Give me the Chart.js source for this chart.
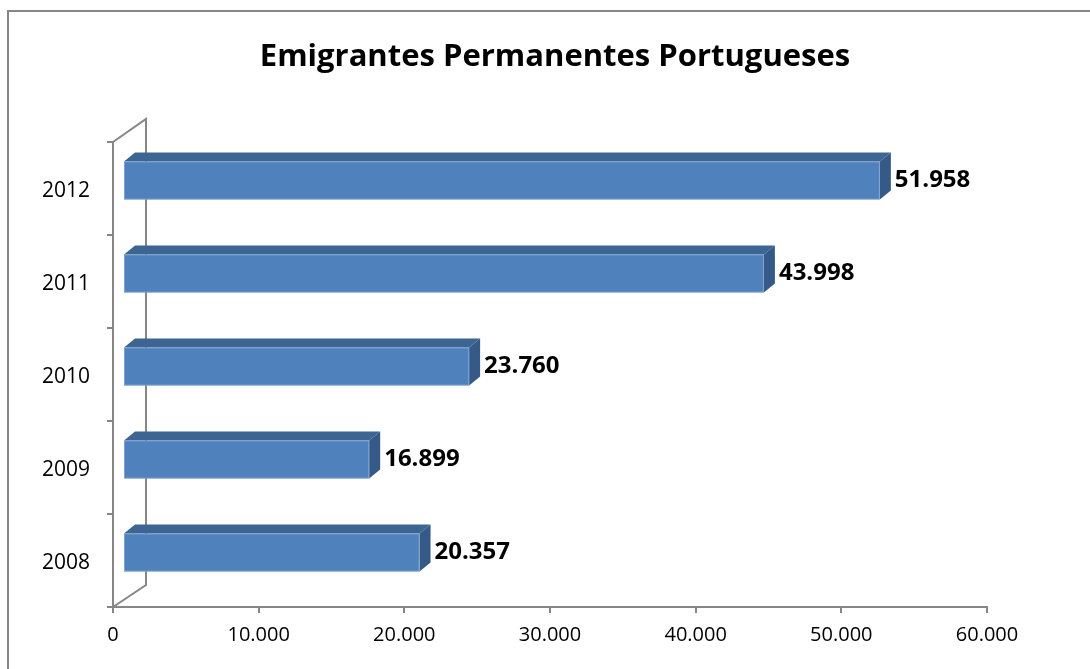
<!DOCTYPE html>
<html lang="pt">
<head>
<meta charset="UTF-8">
<title>Emigrantes Permanentes Portugueses</title>
<script src="https://cdn.jsdelivr.net/npm/chart.js"></script>
<style>
  html, body { margin: 0; padding: 0; background: #fff; }
  #wrap { width: 1090px; height: 669px; }
</style>
</head>
<body>
<div id="wrap"><canvas id="myChart" width="1090" height="669"></canvas></div>
<script>
// dados
const titulo = 'Emigrantes Permanentes Portugueses';
const anos = ['2012', '2011', '2010', '2009', '2008'];
const emigrantes = [51958, 43998, 23760, 16899, 20357];
const xTicks = [0, 10000, 20000, 30000, 40000, 50000, 60000];

const cinza = '#868686';
const fonte = "'Open Sans', sans-serif";

function fmt(v) {
    return String(v).replace(/\B(?=(\d{3})+(?!\d))/g, '.');
}

// profundidade da barra 3D
const frente = { x: 10, y: -8 };
const prof = { x: 11, y: -9 };
const parede = { x: 33, y: -23 };

const moldura = {
    id: 'moldura',
    beforeDraw(chart) {
        const ctx = chart.ctx;
        ctx.save();
        ctx.fillStyle = cinza;
        ctx.fillRect(7, 10, 2, chart.height);
        ctx.fillRect(7, 10, chart.width, 2);
        // titulo
        ctx.fillStyle = '#000';
        ctx.font = "bold 31px " + fonte;
        ctx.textAlign = 'center';
        ctx.textBaseline = 'middle';
        ctx.fillText(titulo, 555, 57);
        ctx.restore();
    },
    beforeDatasetsDraw(chart) {
        // paredes do grafico 3D
        const a = chart.chartArea;
        const ctx = chart.ctx;
        ctx.save();
        ctx.strokeStyle = cinza;
        ctx.lineWidth = 2;
        ctx.beginPath();
        ctx.moveTo(a.left, a.top);
        ctx.lineTo(a.left + parede.x, a.top + parede.y);
        ctx.lineTo(a.left + parede.x, a.bottom + parede.y + 1);
        ctx.lineTo(a.left, a.bottom);
        ctx.stroke();
        ctx.restore();
    },
    afterDatasetsDraw(chart) {
        const ctx = chart.ctx;
        const meta = chart.getDatasetMeta(0);
        ctx.save();
        meta.data.forEach((bar, i) => {
            const h = bar.height;
            const x0 = bar.base + frente.x, x1 = bar.x + frente.x;
            const y0 = bar.y - h / 2 + frente.y, y1 = bar.y + h / 2 + frente.y;
            // topo
            ctx.fillStyle = '#3C6591';
            ctx.beginPath();
            ctx.moveTo(x0, y0);
            ctx.lineTo(x0 + prof.x, y0 + prof.y);
            ctx.lineTo(x1 + prof.x, y0 + prof.y);
            ctx.lineTo(x1, y0);
            ctx.closePath();
            ctx.fill();
            // lado
            ctx.fillStyle = '#355A87';
            ctx.beginPath();
            ctx.moveTo(x1, y0);
            ctx.lineTo(x1 + prof.x, y0 + prof.y);
            ctx.lineTo(x1 + prof.x, y1 + prof.y);
            ctx.lineTo(x1, y1);
            ctx.closePath();
            ctx.fill();
            // frente
            ctx.fillStyle = '#4F81BD';
            ctx.fillRect(x0, y0, x1 - x0, y1 - y0);
            ctx.strokeStyle = 'rgba(170,195,225,0.5)';
            ctx.lineWidth = 1;
            ctx.strokeRect(x0 + 0.5, y0 + 0.5, x1 - x0 - 1, y1 - y0 - 1);
            // rotulo
            ctx.fillStyle = '#000';
            ctx.font = "bold 24px " + fonte;
            ctx.textAlign = 'left';
            ctx.textBaseline = 'middle';
            ctx.fillText(fmt(emigrantes[i]), x1 + prof.x + 4, (y0 + y1) / 2);
        });
        ctx.restore();
    }
};

const ctx = document.getElementById('myChart').getContext('2d');
const myChart = new Chart(ctx, {
    type: 'bar',
    data: {
        labels: anos,
        datasets: [{
            label: 'Emigrantes',
            data: emigrantes,
            backgroundColor: 'rgba(0,0,0,0)',
            borderWidth: 0,
            barPercentage: 0.41,
            categoryPercentage: 1
        }]
    },
    options: {
        indexAxis: 'y',
        responsive: false,
        animation: false,
        layout: { padding: { left: 0, right: 103, top: 142, bottom: 0 } },
        plugins: {
            legend: { display: false },
            tooltip: { enabled: false },
            title: { display: false }
        },
        scales: {
            x: {
                min: 0,
                max: 60000,
                afterBuildTicks: s => { s.ticks = xTicks.map(v => ({ value: v })); },
                afterFit: s => { s.height = 62; },
                ticks: {
                    color: '#000',
                    font: { family: fonte, size: 20 },
                    padding: 10,
                    maxRotation: 0,
                    callback: v => fmt(v)
                },
                grid: { drawOnChartArea: false, drawTicks: true, tickLength: 6, color: cinza, lineWidth: 2 },
                border: { color: cinza, width: 2 }
            },
            y: {
                afterFit: s => { s.width = 113; },
                ticks: {
                    color: '#000',
                    font: { family: fonte, size: 21 },
                    padding: 17,
                    labelOffset: 3
                },
                grid: { drawOnChartArea: false, drawTicks: true, tickLength: 6, color: cinza, lineWidth: 2, offset: true },
                border: { color: cinza, width: 2 }
            }
        }
    },
    plugins: [moldura]
});
</script>
</body>
</html>
